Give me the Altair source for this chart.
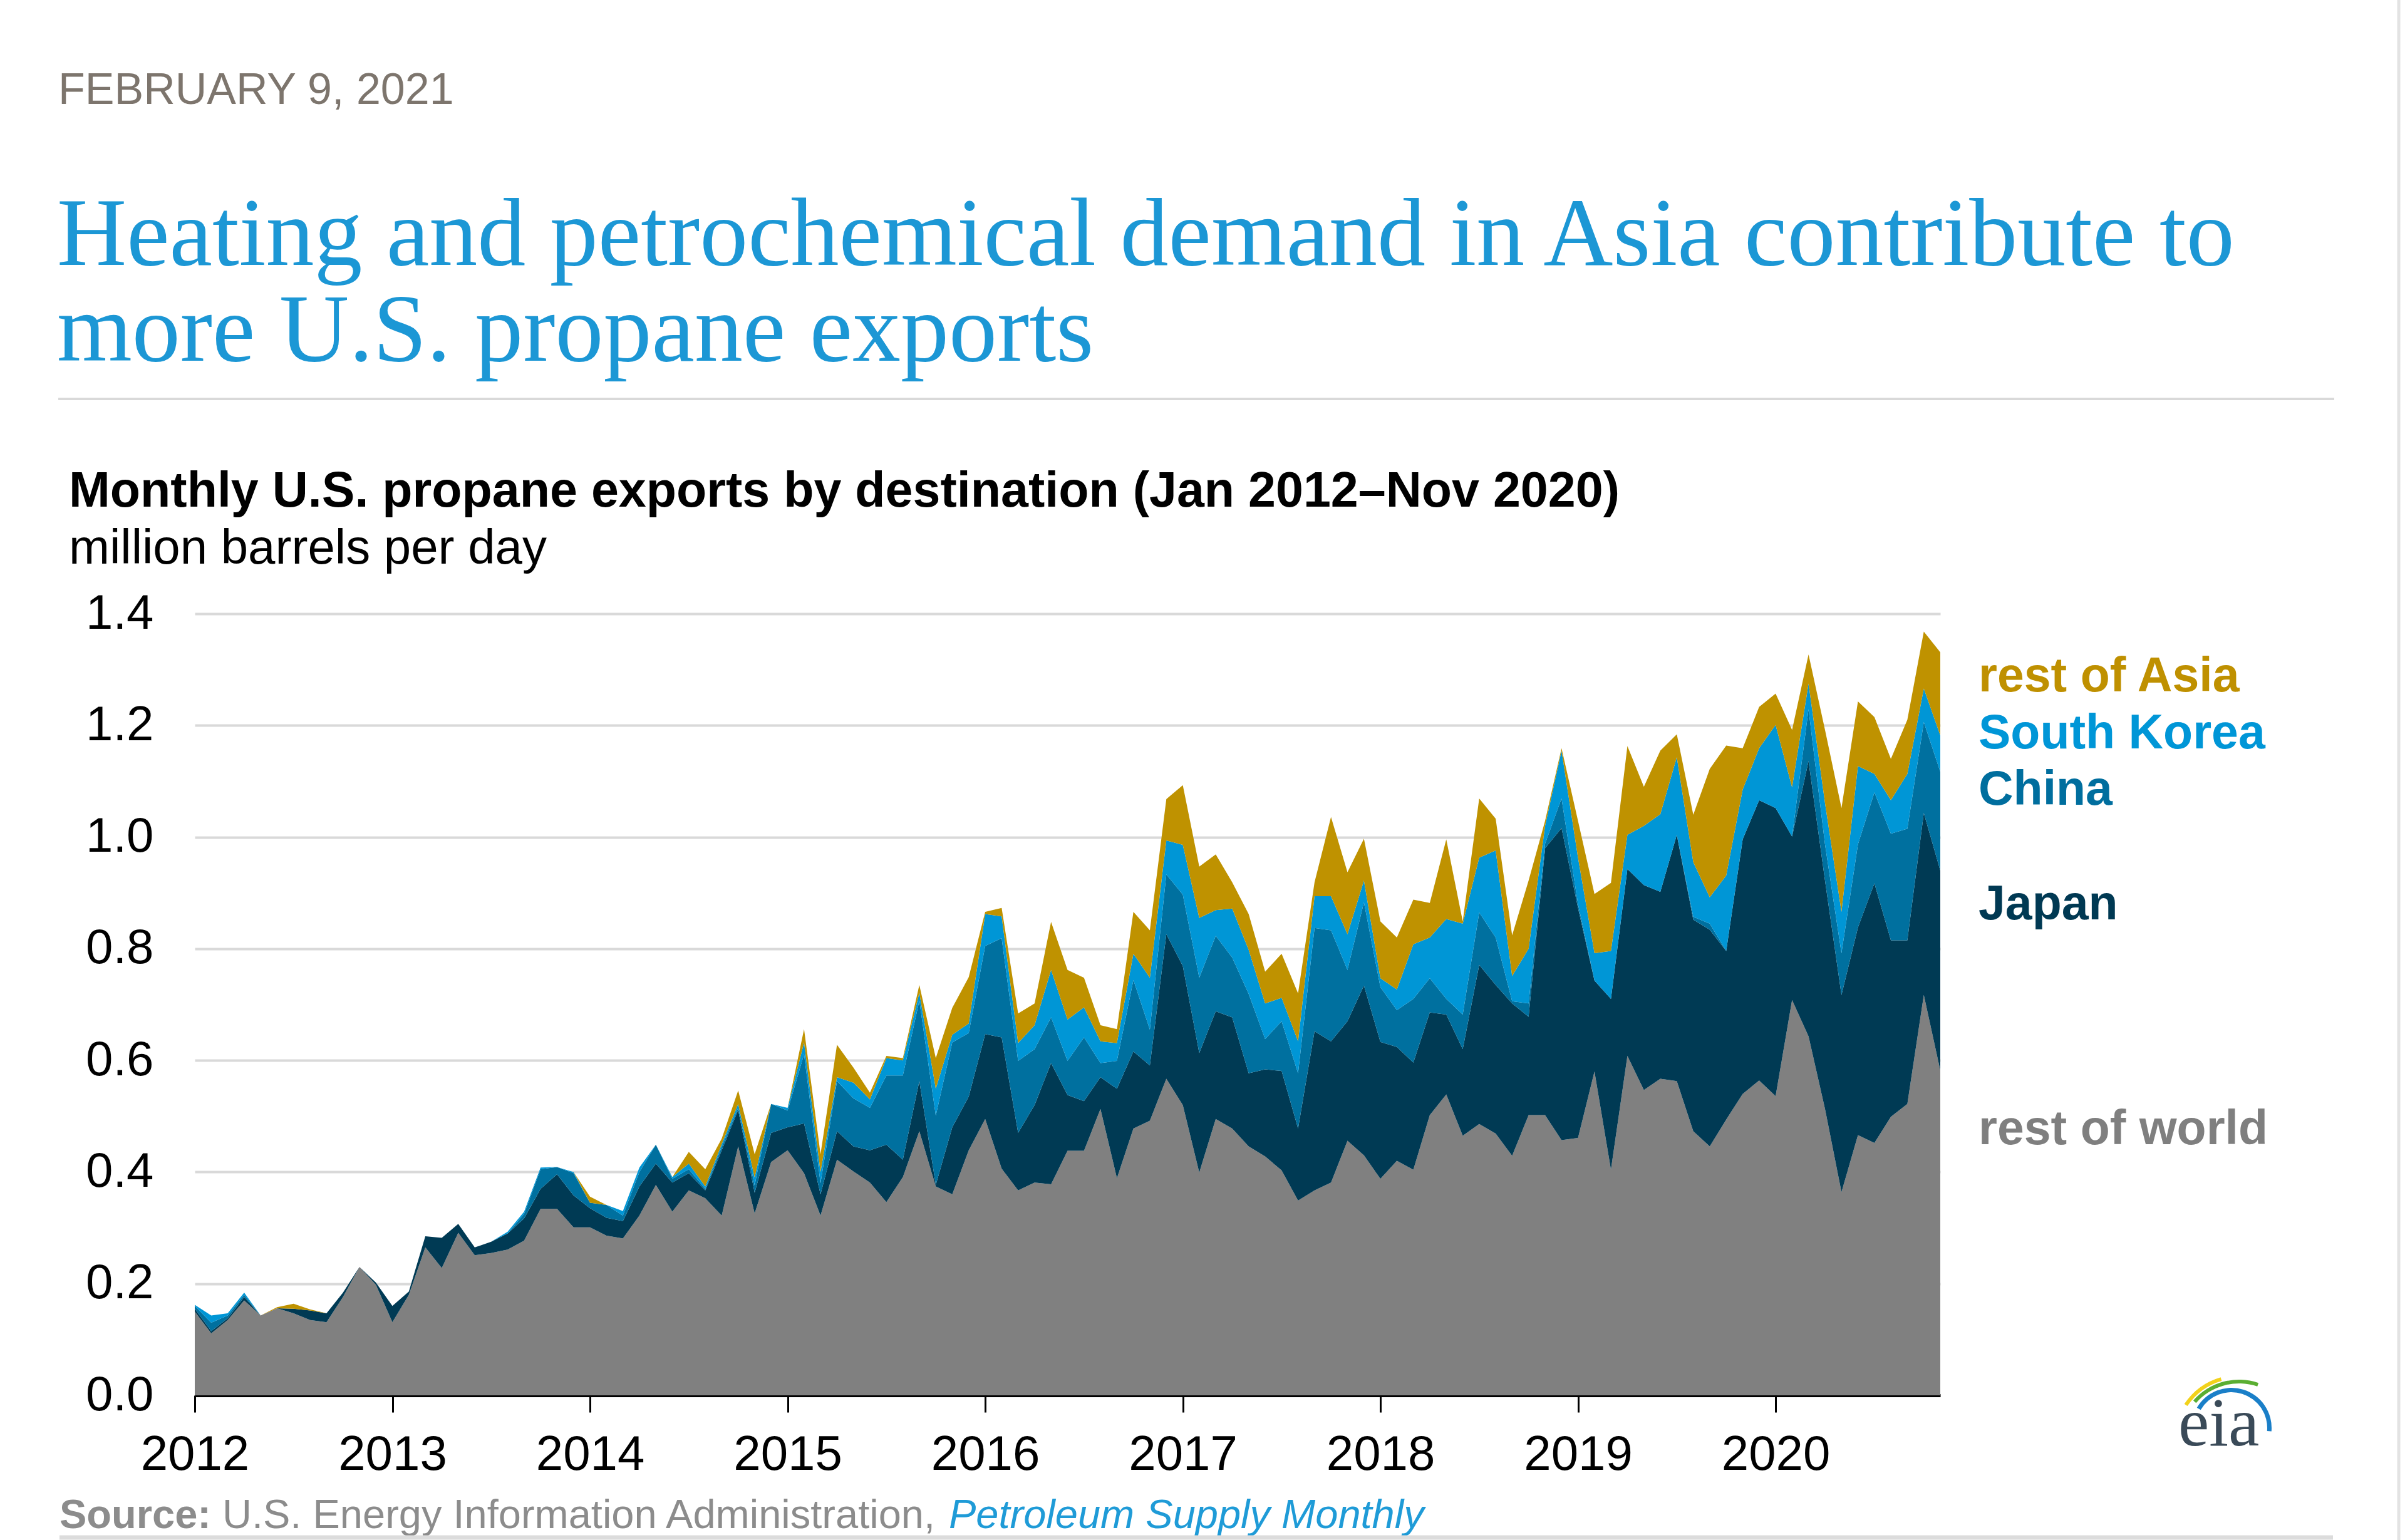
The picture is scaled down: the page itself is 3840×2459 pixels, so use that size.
import altair as alt
import pandas as pd

# ---------------- data (million barrels per day), Jan 2012 .. Nov 2020 ----------------
start_year = 2012
series = ["rest of world", "Japan", "China", "South Korea", "rest of Asia"]
colors = ["#808080", "#003A54", "#00709F", "#0096D6", "#BF9200"]
label_colors = ["#7F7F7F", "#003953", "#006E9E", "#0096D7", "#BF9000"]
year_ticks = [2012, 2013, 2014, 2015, 2016, 2017, 2018, 2019, 2020]
y_ticks = [0.0, 0.2, 0.4, 0.6, 0.8, 1.0, 1.2, 1.4]

rest_of_world = [
    .150, .111, .135, .170, .143, .156, .147, .135, .131, .176, .230, .198,
    .131, .180, .265, .228, .291, .251, .255, .261, .277, .334, .334, .301,
    .301, .286, .281, .322, .377, .329, .367, .353, .322, .446, .326, .418,
    .439, .398, .322, .422, .401, .381, .346, .391, .473, .374, .360, .439,
    .495, .406, .367, .381, .378, .438, .438, .513, .389, .478, .492, .567,
    .520, .399, .495, .478, .446, .428, .403, .349, .367, .381, .456, .430,
    .388, .420, .404, .502, .539, .465, .486, .469, .429, .502, .502, .457,
    .461, .580, .404, .608, .547, .567, .563, .473, .446, .494, .540, .564,
    .536, .708, .643, .513, .364, .466, .452, .499, .522, .717, .582,
]
japan = [
    .005, .004, .003, .006, .000, .000, .008, .017, .016, .008, .000, .004,
    .029, .006, .020, .054, .016, .014, .020, .029, .040, .036, .062, .057,
    .034, .032, .031, .052, .038, .052, .031, .014, .117, .065, .037, .052,
    .041, .089, .038, .051, .045, .058, .103, .031, .090, .003, .120, .096,
    .152, .235, .103, .139, .217, .100, .089, .057, .160, .138, .099, .259,
    .249, .214, .193, .199, .131, .156, .178, .129, .285, .253, .214, .304,
    .245, .204, .192, .184, .143, .155, .285, .266, .273, .176, .478, .559,
    .412, .163, .306, .335, .367, .335, .441, .379, .388, .302, .456, .502,
    .516, .293, .493, .409, .353, .372, .465, .316, .293, .326, .358,
]
china = [
    .005, .015, .005, .004, .000, .000, .000, .000, .000, .000, .000, .000,
    .000, .000, .000, .000, .000, .000, .000, .000, .008, .035, .013, .040,
    .010, .023, .010, .026, .034, .007, .007, .003, .006, .004, .013, .052,
    .030, .124, .020, .090, .086, .076, .124, .151, .144, .124, .152, .114,
    .158, .178, .129, .100, .082, .061, .114, .025, .050, .128, .064, .107,
    .128, .135, .135, .107, .142, .054, .089, .099, .185, .199, .092, .149,
    .098, .066, .114, .061, .028, .062, .094, .085, .004, .024, .008, .053,
    .007, .000, .000, .000, .000, .000, .000, .005, .011, .000, .000, .000,
    .000, .000, .093, .065, .075, .149, .163, .191, .200, .163, .177,
]
south_korea = [
    .002, .013, .004, .004, .000, .000, .000, .000, .000, .000, .000, .000,
    .000, .000, .000, .000, .000, .000, .000, .003, .004, .003, .000, .002,
    .000, .000, .008, .008, .000, .003, .010, .004, .005, .007, .014, .000,
    .005, .021, .020, .007, .028, .015, .031, .027, .014, .048, .014, .017,
    .057, .039, .032, .043, .085, .074, .054, .039, .032, .047, .093, .061,
    .089, .107, .046, .088, .079, .064, .042, .057, .057, .061, .064, .039,
    .016, .037, .098, .073, .143, .163, .098, .156, .045, .098, .032, .086,
    .083, .049, .086, .061, .106, .139, .139, .098, .047, .135, .089, .093,
    .149, .088, .046, .074, .074, .140, .033, .060, .098, .060, .065,
]
rest_of_asia = [
    .000, .000, .000, .000, .000, .002, .009, .002, .000, .000, .000, .000,
    .000, .000, .000, .000, .000, .000, .000, .000, .000, .000, .000, .000,
    .011, .000, .000, .000, .000, .000, .021, .031, .010, .024, .042, .000,
    .000, .024, .032, .058, .027, .012, .004, .004, .014, .055, .048, .083,
    .004, .015, .053, .039, .086, .089, .053, .029, .025, .075, .085, .074,
    .107, .092, .100, .047, .064, .057, .079, .086, .025, .142, .111, .075,
    .102, .093, .080, .062, .143, .004, .106, .057, .073, .122, .009, .004,
    .066, .106, .122, .159, .070, .114, .041, .085, .230, .233, .074, .074,
    .056, .103, .052, .131, .186, .116, .102, .074, .097, .102, .149,
]

values = [rest_of_world, japan, china, south_korea, rest_of_asia]
n_months = len(rest_of_world)
rows = []
for order, (name, vals) in enumerate(zip(series, values)):
    for i, v in enumerate(vals):
        rows.append({"t": start_year + i / 12.0, "v": v, "s": name, "o": order})
df = pd.DataFrame(rows)

# ---------------- layout (pixels) ----------------
W, H = 2787, 1248
PAD = {"left": 311, "top": 980, "right": 742, "bottom": 231}
SANS = "Liberation Sans"
SERIF = "Liberation Serif"

x_end = start_year + (n_months - 1) / 12.0

area = alt.Chart(df).mark_area(interpolate="linear").encode(
    x=alt.X("t:Q",
            scale=alt.Scale(domain=[start_year, x_end], nice=False, zero=False),
            axis=alt.Axis(values=year_ticks, format="d", title=None, grid=False,
                          labelFont=SANS, labelFontSize=78, labelColor="black",
                          labelFlush=False, labelOverlap=False, labelPadding=29,
                          domainColor="black", domainWidth=5,
                          tickColor="black", tickWidth=3, tickSize=27)),
    y=alt.Y("v:Q", stack="zero",
            scale=alt.Scale(domain=[0, 1.4], nice=False),
            axis=alt.Axis(values=y_ticks, format=".1f", title=None,
                          labelFont=SANS, labelFontSize=78, labelColor="black",
                          labelPadding=66, ticks=False, tickSize=0, domain=False,
                          gridColor="#d9d9d9", gridWidth=4)),
    color=alt.Color("s:N", scale=alt.Scale(domain=series, range=colors), legend=None),
    order=alt.Order("o:Q", sort="ascending"),
)


def txt(s, x, y, size, color, weight="normal", font=SANS, style="normal", align="left"):
    return alt.Chart(pd.DataFrame({"s": [s]})).mark_text(
        align=align, baseline="alphabetic", fontSize=size, color=color,
        fontWeight=weight, font=font, fontStyle=style,
    ).encode(x=alt.value(x), y=alt.value(y), text="s:N")


def hline(x1, x2, y, color, width):
    return alt.Chart(pd.DataFrame({"a": [0]})).mark_rule(color=color, strokeWidth=width).encode(
        x=alt.value(x1), x2=alt.value(x2), y=alt.value(y))


def vline(x, y1, y2, color, width):
    return alt.Chart(pd.DataFrame({"a": [0]})).mark_rule(color=color, strokeWidth=width).encode(
        x=alt.value(x), y=alt.value(y1), y2=alt.value(y2))


def arc(cx, cy, r1, r2, th1, th2, color):
    return alt.Chart(pd.DataFrame({"a": [0]})).mark_arc(
        radius=r1, radius2=r2, theta=th1, theta2=th2, color=color
    ).encode(x=alt.value(cx), y=alt.value(cy))


layers = [area]

# header
layers.append(txt("FEBRUARY 9, 2021", -218, -814, 70, "#7d756d"))
layers.append(txt("Heating and petrochemical demand in Asia contribute to", -220, -557, 154, "#1c97d5", font=SERIF))
layers.append(txt("more U.S. propane exports", -220, -404, 154, "#1c97d5", font=SERIF))
layers.append(hline(-218, 3416, -343, "#d9d9d9", 4))

# chart titles
layers.append(txt("Monthly U.S. propane exports by destination (Jan 2012\u2013Nov 2020)", -201, -171, 79, "black", weight="bold"))
layers.append(txt("million barrels per day", -201, -80, 78, "black"))

# direct labels
label_y = {"rest of Asia": 124, "South Korea": 215, "China": 305, "Japan": 488, "rest of world": 847}
for name, c in zip(series, label_colors):
    layers.append(txt(name, 2848, label_y[name], 77, c, weight="bold"))

# source
layers.append(txt("Source:", -216, 1460, 65, "#8c8c8c", weight="bold"))
layers.append(txt("U.S. Energy Information Administration,", 44, 1460, 65, "#8c8c8c"))
layers.append(txt("Petroleum Supply Monthly", 1204, 1460, 65, "#1f9bd7", style="italic"))
layers.append(hline(-216, 3414, 1475, "#dcdcdc", 7))
layers.append(vline(3519, -980, 1479, "#e3e3e3", 5))

# eia logo
layers.append(arc(3264, 1320, 99, 105, 5.30, 6.00, "#f2d21b"))
layers.append(arc(3264, 1320, 91, 97, 5.43, 6.61, "#5aae32"))
layers.append(arc(3252, 1300, 57, 64, 5.24, 7.94, "#1a7fc8"))
layers.append(txt("eia", 3167, 1328, 111, "#3a4a58", font=SERIF))

chart = alt.layer(*layers).properties(
    width=W, height=H,
    autosize=alt.AutoSizeParams(type="none"),
    padding=PAD,
    background="white",
).configure_view(stroke=None)

chart.save("out.html", embed_options={"renderer": "svg", "actions": False})
